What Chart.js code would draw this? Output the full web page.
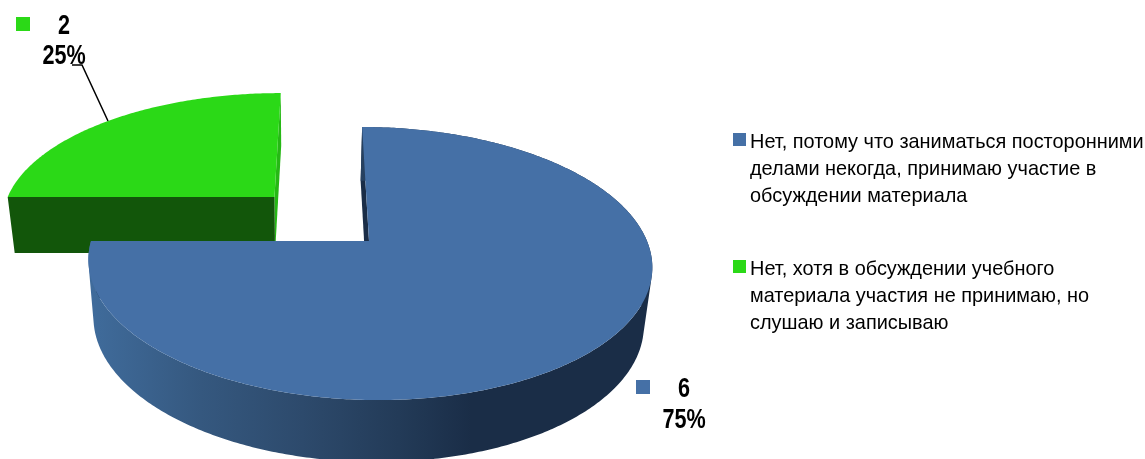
<!DOCTYPE html>
<html>
<head>
<meta charset="utf-8">
<script src="https://cdn.jsdelivr.net/npm/chart.js@4"></script>
<style>
    html, body { margin: 0; padding: 0; background: #fff; overflow: hidden; }
    canvas { display: block; }
</style>
</head>
<body>
<canvas id="pie3d" width="1145" height="459"></canvas>
<script>
var categories = [
    "Нет, потому что заниматься посторонними делами некогда, принимаю участие в обсуждении материала",
    "Нет, хотя в обсуждении учебного материала участия не принимаю, но слушаю и записываю"
];
var legendLines = [
    ["Нет, потому что заниматься посторонними", "делами некогда, принимаю участие в", "обсуждении материала"],
    ["Нет, хотя в обсуждении учебного", "материала участия не принимаю, но", "слушаю и записываю"]
];
var values = [6, 2];
var explode = [0, 91];
var radiusScale = [1, 1.015];
var topColors = ["#4570a6", "#2bd917"];
var startEdgeColors = ["#1a2d47", "#12560a"];
var endEdgeColors = ["#1a2d47", "#26b815"];

// camera for the tilted pie
var view = { x: 369, y: 241, a: 278, b: 132.8, skew: 8, persp: 0.165 };
// where the lower rim sits relative to the upper rim
var wall = { nadirX: 300, pull: 0.024, depth: 50, grow: 0.03 };

function project(u, v) {
    var w = 1 - view.persp * v;
    return { x: view.x + (view.a * u + view.skew * v) / w, y: view.y + view.b * v / w };
}

function lower(p) {
    return { x: p.x + (wall.nadirX - p.x) * wall.pull, y: p.y + wall.depth + p.y * wall.grow };
}

function signedArea(pts) {
    var sum = 0;
    pts.forEach(function (p, i) {
        var n = pts[(i + 1) % pts.length];
        sum += p.x * n.y - n.x * p.y;
    });
    return sum;
}

function tracePoly(ctx, pts) {
    pts.forEach(function (p, i) {
        if (i === 0) ctx.moveTo(p.x, p.y); else ctx.lineTo(p.x, p.y);
    });
    ctx.closePath();
}

function fillPoly(ctx, pts, fill) {
    ctx.beginPath();
    tracePoly(ctx, pts);
    ctx.fillStyle = fill;
    ctx.fill();
}

// no narrow font here, so squeeze the text sideways
function narrowText(ctx, text, x, y, squeeze) {
    ctx.save();
    ctx.translate(x, y);
    ctx.scale(squeeze, 1);
    ctx.fillText(text, 0, 0);
    ctx.restore();
}

var pie3dPlugin = {
    id: "pie3d",
    beforeDatasetDraw: function (chart) {
        var ctx = chart.ctx;
        var arcs = chart.getDatasetMeta(0).data;

        for (var i = arcs.length - 1; i >= 0; i--) {
            var arc = arcs[i];
            var mid = (arc.startAngle + arc.endAngle) / 2;
            var shift = (arc.options.offset || 0) / arc.outerRadius;
            var du = Math.cos(mid) * shift;
            var dv = Math.sin(mid) * shift;
            var apex = project(du, dv);

            var rim = [];
            var steps = Math.ceil((arc.endAngle - arc.startAngle) * 90);
            for (var s = 0; s <= steps; s++) {
                var t = arc.startAngle + (arc.endAngle - arc.startAngle) * s / steps;
                rim.push(project(du + Math.cos(t) * radiusScale[i], dv + Math.sin(t) * radiusScale[i]));
            }
            var first = rim[0];
            var last = rim[rim.length - 1];

            // cut faces, one on each side of the slice
            fillPoly(ctx, [last, apex, lower(apex), lower(last)], endEdgeColors[i]);
            fillPoly(ctx, [first, apex, lower(apex), lower(first)], startEdgeColors[i]);

            // outer wall, shaded from left to right
            if (i === 0) {
                var shade = ctx.createLinearGradient(88, 0, 652, 0);
                shade.addColorStop(0, "#406c9c");
                shade.addColorStop(0.2, "#35587f");
                shade.addColorStop(0.38, "#2d4a6c");
                shade.addColorStop(0.55, "#233b58");
                shade.addColorStop(0.68, "#1a2d47");
                shade.addColorStop(1, "#1a2d47");
                ctx.beginPath();
                for (var q = 0; q < rim.length - 1; q++) {
                    var quad = [rim[q], rim[q + 1], lower(rim[q + 1]), lower(rim[q])];
                    // same winding for all, or front and back cancel out where they overlap
                    if (signedArea(quad) < 0) quad.reverse();
                    tracePoly(ctx, quad);
                }
                ctx.fillStyle = shade;
                ctx.fill();
            }

            // top face
            fillPoly(ctx, [apex].concat(rim), topColors[i]);
        }
        return false;
    },
    afterDraw: function (chart) {
        var ctx = chart.ctx;
        var total = values.reduce(function (a, b) { return a + b; }, 0);
        var legendSpots = [{ x: 733, y: 133 }, { x: 733, y: 260 }];
        var labelSpots = [
            { boxX: 636, boxY: 380, x: 684, y: 390, gap: 31 },
            { boxX: 16, boxY: 17, x: 64, y: 27, gap: 30 }
        ];

        ctx.save();
        ctx.textBaseline = "middle";

        // leader line of the small slice
        ctx.strokeStyle = "#000";
        ctx.lineWidth = 1.5;
        ctx.beginPath();
        ctx.moveTo(72, 65);
        ctx.lineTo(82, 65);
        ctx.lineTo(108, 121);
        ctx.stroke();

        // value labels
        ctx.textAlign = "center";
        ctx.font = "bold 27px 'Liberation Sans'";
        values.forEach(function (v, i) {
            var spot = labelSpots[i];
            ctx.fillStyle = topColors[i];
            ctx.fillRect(spot.boxX, spot.boxY, 14, 14);
            ctx.fillStyle = "#000";
            narrowText(ctx, String(v), spot.x, spot.y, 0.8);
            narrowText(ctx, Math.round(v / total * 100) + "%", spot.x, spot.y + spot.gap, 0.8);
        });

        // legend
        ctx.textAlign = "left";
        ctx.font = "21px 'Liberation Sans'";
        legendLines.forEach(function (lines, i) {
            var spot = legendSpots[i];
            ctx.fillStyle = topColors[i];
            ctx.fillRect(spot.x, spot.y, 13, 13);
            ctx.fillStyle = "#000";
            lines.forEach(function (line, n) {
                narrowText(ctx, line, spot.x + 17, spot.y + 9 + n * 27.3, 0.948);
            });
        });
        ctx.restore();
    }
};

new Chart("pie3d", {
    type: "pie",
    data: {
        labels: categories,
        datasets: [{
            data: values,
            backgroundColor: topColors,
            offset: explode,
            borderWidth: 0
        }]
    },
    options: {
        responsive: false,
        animation: false,
        plugins: {
            legend: { display: false },
            tooltip: { enabled: false }
        }
    },
    plugins: [pie3dPlugin]
});
</script>
</body>
</html>
